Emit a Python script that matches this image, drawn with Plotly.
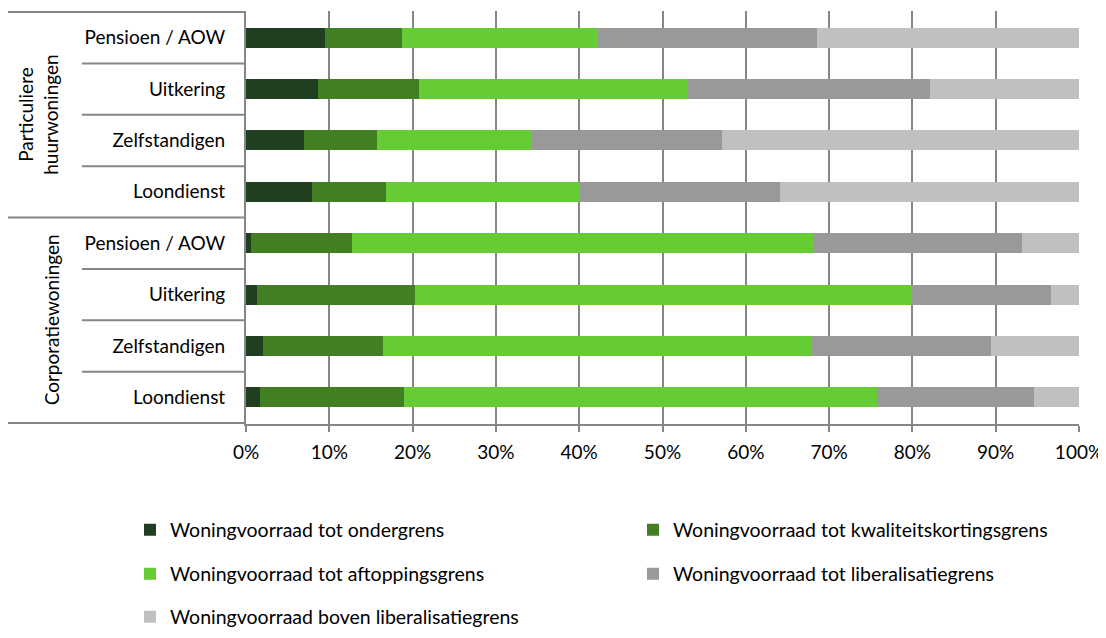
import plotly.graph_objects as go

groups = ["Particuliere huurwoningen"] * 4 + ["Corporatiewoningen"] * 4
subcats = ["Pensioen / AOW", "Uitkering", "Zelfstandigen", "Loondienst",
           "Pensioen / AOW", "Uitkering", "Zelfstandigen", "Loondienst"]
series_names = [
    "Woningvoorraad tot ondergrens",
    "Woningvoorraad tot kwaliteitskortingsgrens",
    "Woningvoorraad tot aftoppingsgrens",
    "Woningvoorraad tot liberalisatiegrens",
    "Woningvoorraad boven liberalisatiegrens",
]
ondergrens = [9.5, 8.6, 7.0, 7.9, 0.6, 1.3, 2.0, 1.7]
kwaliteitskorting = [9.2, 12.2, 8.7, 8.9, 12.1, 19.0, 14.4, 17.3]
aftopping = [23.5, 32.3, 18.5, 23.2, 55.5, 59.7, 51.5, 56.7]
liberalisatie = [26.3, 29.0, 23.0, 24.1, 25.0, 16.6, 21.5, 18.9]
boven_liberalisatie = [31.5, 17.9, 42.8, 35.9, 6.8, 3.4, 10.6, 5.4]
x_ticks = [0, 10, 20, 30, 40, 50, 60, 70, 80, 90, 100]
x_tick_labels = ["0%", "10%", "20%", "30%", "40%", "50%", "60%", "70%", "80%", "90%", "100%"]

colors = ["#203f20", "#417f22", "#66cc33", "#999999", "#c0c0c0"]
series = [ondergrens, kwaliteitskorting, aftopping, liberalisatie, boven_liberalisatie]
legend_ids = ["legend", "legend2", "legend3", "legend4", "legend5"]

cats = [f"{g}|{s}" for g, s in zip(groups, subcats)]
FONT = "Lato"
GRID = "#868686"

# page body has an 8px margin: figure coords = reference coords - 8
W, H = 1098, 622
ML, MR, MT, MB = 238, W - 1071, 3, H - 416

fig = go.Figure()
for name, vals, col, lg in zip(series_names, series, colors, legend_ids):
    fig.add_trace(go.Bar(
        y=cats, x=vals, name=name, orientation="h",
        marker=dict(color=col, line=dict(width=0)),
        legend=lg, showlegend=True,
    ))

shapes = []
# category separator lines in the label area
n = len(cats)
for i in range(n + 1):
    ypos = i - 0.5
    is_group = (i == 0 or i == n or groups[i - 1] != groups[min(i, n - 1)])
    shapes.append(dict(
        type="line", xref="paper", yref="y",
        x0=-0.2857 if is_group else -0.197, x1=0,
        y0=ypos, y1=ypos, line=dict(color=GRID, width=2),
    ))

annotations = []
group_order = []
for g in groups:
    if g not in group_order:
        group_order.append(g)
group_text = {"Particuliere huurwoningen": "Particuliere<br>huurwoningen",
              "Corporatiewoningen": "Corporatiewoningen"}
group_x = {"Particuliere huurwoningen": -0.2497, "Corporatiewoningen": -0.234}
for g in group_order:
    idx = [i for i, gg in enumerate(groups) if gg == g]
    mid = (idx[0] + idx[-1]) / 2
    annotations.append(dict(
        text=group_text[g], xref="paper", yref="y", x=group_x[g], y=mid,
        textangle=-90, showarrow=False, xanchor="center", yanchor="middle",
        font=dict(family=FONT, size=19, color="#000000"),
    ))

legend_common = dict(
    orientation="h", xanchor="left", yanchor="middle",
    xref="container", yref="container",
    font=dict(family=FONT, size=19.5, color="#000000"),
    bgcolor="rgba(0,0,0,0)", itemclick=False, itemdoubleclick=False,
)
# legend item positions (figure pixels -> container fraction)
leg_px_x = [122, 625, 122, 625, 122]
leg_px_y = [522, 522, 566, 566, 609]

layout_legends = {}
for lg, lx, ly in zip(legend_ids, leg_px_x, leg_px_y):
    layout_legends[lg] = dict(x=lx / W, y=1 - ly / H, **legend_common)

fig.update_layout(
    width=W, height=H,
    margin=dict(l=ML, r=MR, t=MT, b=MB, autoexpand=False),
    paper_bgcolor="white", plot_bgcolor="white",
    barmode="stack", bargap=0.61, showlegend=True,
    font=dict(family=FONT, size=19, color="#000000"),
    xaxis=dict(
        range=[0, 100], tickmode="array", tickvals=x_ticks, ticktext=x_tick_labels,
        showgrid=True, gridcolor=GRID, gridwidth=2,
        showline=True, linecolor=GRID, linewidth=2,
        ticks="outside", ticklen=6, tickcolor=GRID, tickwidth=2,
        ticklabelstandoff=4, zeroline=False,
    ),
    yaxis=dict(
        categoryorder="array", categoryarray=cats,
        tickvals=cats, ticktext=subcats, autorange="reversed",
        showline=True, linecolor=GRID, linewidth=2,
        ticks="", ticklabelstandoff=15, showgrid=False,
    ),
    shapes=shapes,
    annotations=annotations,
    **layout_legends,
)

fig.write_html("out.html")
